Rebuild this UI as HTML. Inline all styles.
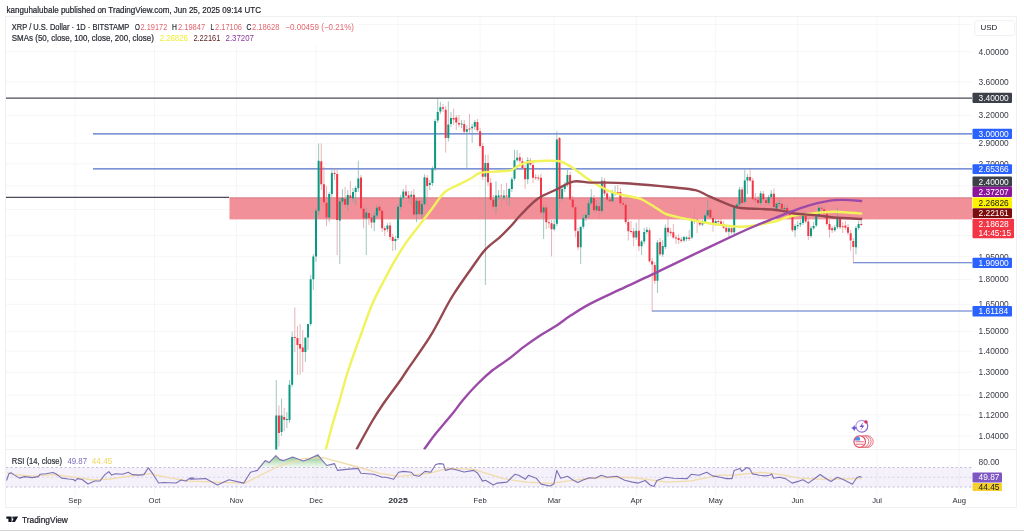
<!DOCTYPE html>
<html><head><meta charset="utf-8"><style>
html,body{margin:0;padding:0;width:1024px;height:531px;overflow:hidden;background:#fff;font-family:"Liberation Sans",sans-serif;}
</style></head><body>
<svg width="1024" height="531" viewBox="0 0 1024 531" style="position:absolute;left:0;top:0;will-change:transform"><defs><clipPath id="main"><rect x="6" y="19" width="966" height="430.5"/></clipPath><clipPath id="rsi"><rect x="6" y="450.5" width="966" height="45"/></clipPath><linearGradient id="ob" x1="0" y1="0" x2="0" y2="1"><stop offset="0" stop-color="#5fae5f" stop-opacity="0.8"/><stop offset="1" stop-color="#7cc47c" stop-opacity="0.08"/></linearGradient></defs><text x="6.6" y="12.9" font-family="Liberation Sans, sans-serif" font-size="9" fill="#1e2029" stroke="#1e2029" stroke-width="0.22" textLength="254.4" lengthAdjust="spacingAndGlyphs">kanguhalubale published on TradingView.com, Jun 25, 2025 09:14 UTC</text><rect x="5.5" y="16.5" width="1011" height="491" fill="#fff" stroke="#f0f0f0" stroke-width="1"/><path d="M75.1,17V495 M154.5,17V495 M236.6,17V495 M316.0,17V495 M398.0,17V495 M480.1,17V495 M554.2,17V495 M636.3,17V495 M715.7,17V495 M797.7,17V495 M877.1,17V495 M959.2,17V495 M6,24.5H972 M6,51.7H972 M6,81.8H972 M6,115.4H972 M6,143.4H972 M6,163.8H972 M6,185.8H972 M6,209.6H972 M6,235.5H972 M6,256.7H972 M6,279.5H972 M6,304.3H972 M6,331.5H972 M6,351.2H972 M6,372.3H972 M6,395.2H972 M6,414.9H972 M6,436.0H972" stroke="#f6f6f8" stroke-width="1" fill="none"/><path d="M6,449.5H1016" stroke="#f0f0f0" stroke-width="1"/><g clip-path="url(#main)"><path d="M6,98.1H972" stroke="#4a4d57" stroke-width="1.1"/><path d="M93,133.8H972 M93,168.8H972" stroke="#5270c8" stroke-width="1.15"/><path d="M6,197.4H229" stroke="#4a4d57" stroke-width="1.1"/><rect x="229.5" y="197.4" width="742.5" height="22.0" fill="#f2909a"/><path d="M229.5,197.9H972" stroke="#b06068" stroke-opacity="0.45" stroke-width="1"/><path d="M853,262.7H972 M652,311.0H972" stroke="#5270c8" stroke-width="1.15"/><path d="M276.27,380.0V470.0 M281.57,398.6V436.0 M286.86,412.0V428.0 M289.51,380.0V423.0 M292.15,331.5V387.0 M305.39,345.0V362.0 M308.04,332.0V350.0 M310.68,275.0V326.0 M313.33,254.0V290.0 M315.98,208.0V262.0 M318.62,143.5V215.0 M329.21,192.0V222.0 M331.86,170.0V197.0 M339.80,198.0V264.0 M342.45,189.0V205.0 M347.74,190.0V211.0 M353.03,188.0V202.0 M355.68,186.0V205.0 M358.33,160.8V192.0 M366.27,208.0V255.0 M374.21,212.0V231.2 M376.86,205.0V218.0 M387.45,223.0V232.0 M395.39,236.0V250.0 M398.03,204.0V240.0 M400.68,195.0V209.0 M403.33,189.0V200.0 M411.27,191.0V205.0 M416.56,198.0V222.2 M421.86,200.0V218.0 M424.50,174.3V206.0 M429.80,180.0V190.0 M432.44,166.4V186.0 M435.09,119.0V171.0 M437.74,99.0V123.0 M440.39,101.9V114.0 M448.33,101.4V141.5 M450.97,112.0V127.0 M461.56,120.0V128.0 M466.86,125.0V168.0 M472.15,124.0V143.0 M474.80,120.0V130.0 M485.38,154.8V285.0 M495.97,181.2V213.5 M498.62,190.0V200.0 M503.91,190.0V200.0 M509.21,188.0V206.0 M511.85,177.0V192.0 M514.50,150.0V181.0 M517.15,150.0V162.0 M527.74,157.0V184.0 M543.62,205.0V239.0 M554.21,220.0V231.0 M556.85,131.2V226.0 M562.15,185.0V201.0 M564.79,182.0V192.0 M567.44,170.0V187.0 M580.68,235.0V264.0 M583.32,215.0V229.0 M585.97,213.0V221.0 M588.62,200.0V218.0 M591.26,189.1V205.0 M596.56,200.0V212.0 M601.85,176.9V213.0 M612.44,190.0V203.0 M615.09,185.7V196.0 M636.26,223.0V240.0 M641.56,240.0V255.0 M644.20,228.0V244.0 M646.85,227.0V234.0 M657.44,240.0V293.0 M662.73,240.0V257.0 M665.38,224.4V249.0 M683.91,236.0V242.0 M686.56,236.0V241.0 M691.85,219.0V239.0 M702.44,220.0V226.0 M705.09,214.0V224.0 M707.73,199.9V217.0 M715.67,219.0V226.0 M728.91,227.0V239.0 M734.20,205.0V234.0 M736.85,203.0V209.0 M739.50,187.0V206.0 M744.79,169.8V204.0 M747.44,174.0V194.0 M760.67,191.0V205.0 M768.61,195.0V205.0 M771.26,190.0V199.0 M776.55,202.0V211.0 M779.20,200.0V207.0 M784.50,205.0V211.0 M795.08,224.0V237.1 M797.73,221.0V229.0 M800.38,220.0V227.0 M803.02,212.0V225.0 M810.97,226.0V238.0 M813.61,222.0V230.0 M816.26,212.0V227.0 M818.91,205.0V217.0 M834.79,225.0V232.0 M837.44,207.7V229.0 M855.96,226.0V254.3 M858.61,221.3V230.0" stroke="#6aa79a" stroke-width="0.85" stroke-opacity="0.75" fill="none"/><path d="M278.92,405.5V446.5 M284.21,407.8V431.0 M294.80,307.5V352.0 M297.45,326.0V375.0 M300.09,324.0V374.7 M302.74,330.0V372.0 M321.27,143.5V190.0 M323.92,166.6V206.0 M326.56,186.0V226.3 M334.51,168.0V180.0 M337.15,170.0V255.0 M345.09,187.0V208.0 M350.39,181.0V200.0 M360.98,175.0V210.0 M363.62,205.0V228.3 M368.92,210.0V225.0 M371.56,214.0V228.3 M379.50,204.0V214.0 M382.15,208.0V232.0 M384.80,226.0V236.0 M390.09,222.0V240.0 M392.74,234.0V251.0 M405.98,185.0V198.0 M408.62,191.0V203.0 M413.92,189.0V217.0 M419.21,197.0V216.0 M427.15,175.0V205.6 M443.03,104.0V112.0 M445.68,106.0V152.7 M453.62,108.7V125.0 M456.27,115.0V130.0 M458.91,115.0V127.3 M464.21,120.0V134.0 M469.50,114.0V133.0 M477.44,119.0V132.0 M480.09,128.0V148.0 M482.74,143.0V180.0 M488.03,154.8V186.0 M490.68,178.0V202.0 M493.33,195.0V210.0 M501.27,184.0V207.0 M506.56,183.0V205.0 M519.80,153.0V163.0 M522.44,157.7V170.0 M525.09,165.0V189.0 M530.38,158.0V166.0 M533.03,162.0V183.2 M535.68,174.0V180.0 M538.32,175.0V181.0 M540.97,173.9V215.0 M546.27,204.0V229.0 M548.91,218.0V228.0 M551.56,220.0V256.4 M559.50,137.0V209.6 M570.09,172.0V201.0 M572.74,196.0V209.0 M575.38,204.0V237.5 M578.03,228.0V250.3 M593.91,195.0V213.0 M599.21,203.0V219.0 M604.50,178.0V196.0 M607.15,190.0V201.0 M609.79,196.0V203.0 M617.74,185.0V195.0 M620.38,188.0V206.0 M623.03,200.0V207.0 M625.68,202.0V224.0 M628.32,219.0V240.5 M630.97,221.0V234.0 M633.62,228.0V246.3 M638.91,219.0V251.0 M649.50,228.0V263.0 M652.15,258.0V311.5 M654.79,262.0V284.0 M660.09,238.0V256.0 M668.03,217.5V237.0 M670.67,228.0V236.0 M673.32,224.0V239.0 M675.97,235.0V244.0 M678.62,234.0V244.0 M681.26,237.0V243.0 M689.20,230.0V241.0 M694.50,208.7V224.0 M697.14,217.0V233.2 M699.79,220.0V226.0 M710.38,207.0V219.0 M713.03,216.0V231.7 M718.32,218.0V224.0 M720.97,219.0V225.0 M723.62,221.0V229.0 M726.26,225.0V233.0 M731.56,226.0V234.0 M742.14,187.0V205.0 M750.08,168.8V182.0 M752.73,178.0V201.0 M755.38,193.0V203.0 M758.03,196.0V205.0 M763.32,191.0V201.0 M765.97,197.0V205.0 M773.91,188.4V209.0 M781.85,198.0V211.0 M787.14,204.0V214.0 M789.79,210.0V219.0 M792.44,214.0V232.0 M805.67,212.0V223.0 M808.32,218.0V240.0 M821.55,205.0V211.0 M824.20,206.0V215.0 M826.85,211.0V226.0 M829.50,220.0V237.7 M832.14,226.0V233.0 M840.08,215.0V229.0 M842.73,222.0V233.0 M845.38,221.0V230.0 M848.02,224.0V235.0 M850.67,230.0V250.8 M853.32,238.0V262.5 M861.26,221.0V226.0" stroke="#d98890" stroke-width="0.85" stroke-opacity="0.75" fill="none"/><path d="M275.27,415.6h2V470.0h-2z M280.57,415.6h2V432.0h-2z M285.86,419.0h2V420.0h-2z M288.51,384.7h2V420.0h-2z M291.15,337.1h2V384.7h-2z M304.39,337.5h2V352.0h-2z M307.04,324.0h2V337.5h-2z M309.68,279.2h2V324.0h-2z M312.33,256.4h2V279.2h-2z M314.98,210.7h2V256.4h-2z M317.62,160.8h2V210.7h-2z M328.21,194.0h2V217.5h-2z M330.86,173.0h2V194.0h-2z M338.80,201.4h2V220.5h-2z M341.45,198.0h2V201.4h-2z M346.74,195.0h2V204.8h-2z M352.03,192.0h2V198.4h-2z M354.68,188.0h2V192.0h-2z M357.33,178.4h2V188.2h-2z M365.27,212.6h2V218.5h-2z M373.21,215.6h2V222.4h-2z M375.86,207.7h2V215.6h-2z M386.45,225.4h2V229.3h-2z M394.39,239.0h2V241.0h-2z M397.03,206.8h2V238.0h-2z M399.68,197.7h2V207.0h-2z M402.33,191.4h2V197.7h-2z M410.27,194.8h2V196.7h-2z M415.56,200.7h2V214.4h-2z M420.86,204.0h2V214.4h-2z M423.50,177.2h2V204.0h-2z M428.80,183.0h2V185.0h-2z M431.44,168.4h2V183.1h-2z M434.09,121.0h2V168.4h-2z M436.74,112.0h2V120.5h-2z M439.39,107.2h2V111.6h-2z M447.33,124.4h2V138.1h-2z M449.97,118.0h2V123.9h-2z M460.56,123.4h2V124.4h-2z M465.86,129.3h2V131.7h-2z M471.15,126.8h2V128.3h-2z M473.80,121.9h2V126.8h-2z M484.38,163.1h2V176.7h-2z M494.97,195.4h2V206.7h-2z M497.62,195.4h2V197.3h-2z M502.91,195.4h2V197.8h-2z M508.21,189.0h2V197.8h-2z M510.85,179.3h2V189.0h-2z M513.50,160.2h2V178.8h-2z M516.15,157.7h2V160.2h-2z M526.74,160.2h2V179.3h-2z M542.62,207.6h2V212.5h-2z M553.21,224.3h2V229.2h-2z M555.85,139.5h2V223.8h-2z M561.15,189.0h2V198.8h-2z M563.79,184.2h2V189.0h-2z M566.44,174.9h2V184.2h-2z M579.68,226.8h2V247.3h-2z M582.32,218.0h2V226.8h-2z M584.97,215.0h2V218.0h-2z M587.62,203.3h2V215.0h-2z M590.26,197.4h2V203.3h-2z M595.56,205.7h2V210.2h-2z M600.85,180.8h2V211.1h-2z M611.44,193.0h2V201.3h-2z M614.09,192.0h2V193.0h-2z M635.26,230.7h2V237.5h-2z M640.56,241.4h2V246.3h-2z M643.20,232.0h2V241.4h-2z M645.85,229.7h2V232.0h-2z M656.44,242.4h2V280.7h-2z M661.73,246.0h2V254.5h-2z M664.38,227.8h2V247.0h-2z M682.91,237.0h2V240.5h-2z M685.56,237.6h2V239.1h-2z M690.85,220.5h2V237.6h-2z M701.44,222.4h2V224.4h-2z M704.09,215.6h2V222.4h-2z M706.73,210.2h2V215.6h-2z M714.67,221.0h2V223.9h-2z M727.91,228.3h2V231.7h-2z M733.20,207.0h2V232.2h-2z M735.85,204.6h2V207.0h-2z M738.50,189.4h2V204.6h-2z M743.79,180.6h2V202.1h-2z M746.44,177.1h2V180.6h-2z M759.67,193.3h2V203.1h-2z M767.61,197.2h2V203.1h-2z M770.26,193.8h2V197.2h-2z M775.55,203.8h2V208.7h-2z M778.20,203.0h2V204.0h-2z M783.50,208.0h2V209.0h-2z M794.08,225.9h2V230.3h-2z M796.73,224.9h2V226.3h-2z M799.38,222.9h2V224.4h-2z M802.02,214.6h2V222.9h-2z M809.97,228.3h2V236.1h-2z M812.61,225.9h2V228.3h-2z M815.26,215.0h2V225.4h-2z M817.91,207.7h2V215.0h-2z M833.79,227.3h2V230.3h-2z M836.44,218.5h2V227.3h-2z M854.96,227.9h2V247.3h-2z M857.61,224.0h2V227.9h-2z" fill="#089981"/><path d="M277.92,415.6h2V433.0h-2z M283.21,417.0h2V419.7h-2z M293.80,337.0h2V338.0h-2z M296.45,338.0h2V345.0h-2z M299.09,344.0h2V348.5h-2z M301.74,347.6h2V352.0h-2z M320.27,161.3h2V184.3h-2z M322.92,184.3h2V202.3h-2z M325.56,202.8h2V217.5h-2z M333.51,173.0h2V174.0h-2z M336.15,174.0h2V220.0h-2z M344.09,199.0h2V204.8h-2z M349.39,195.5h2V198.0h-2z M359.98,177.4h2V208.2h-2z M362.62,208.7h2V218.5h-2z M367.92,213.0h2V218.0h-2z M370.56,217.5h2V222.4h-2z M378.50,206.8h2V210.7h-2z M381.15,210.7h2V228.3h-2z M383.80,228.3h2V230.3h-2z M389.09,225.4h2V237.1h-2z M391.74,237.1h2V241.0h-2z M404.98,191.4h2V195.8h-2z M407.62,195.3h2V198.2h-2z M412.92,194.8h2V214.4h-2z M418.21,200.7h2V213.9h-2z M426.15,177.7h2V186.0h-2z M442.03,107.2h2V108.7h-2z M444.68,109.7h2V138.1h-2z M452.62,118.0h2V119.5h-2z M455.27,117.5h2V122.4h-2z M457.91,123.0h2V124.4h-2z M463.21,123.9h2V131.7h-2z M468.50,128.5h2V129.5h-2z M476.44,121.9h2V130.3h-2z M479.09,131.2h2V145.9h-2z M481.74,145.9h2V176.7h-2z M487.03,163.1h2V182.2h-2z M489.68,182.7h2V199.8h-2z M492.33,199.8h2V206.7h-2z M500.27,195.5h2V196.5h-2z M505.56,195.5h2V196.5h-2z M518.80,157.2h2V160.7h-2z M521.44,161.2h2V168.0h-2z M524.09,168.0h2V179.3h-2z M529.38,160.2h2V164.6h-2z M532.03,165.0h2V177.8h-2z M534.68,177.3h2V178.3h-2z M537.32,177.6h2V178.6h-2z M539.97,177.8h2V212.5h-2z M545.27,207.6h2V222.3h-2z M547.91,222.3h2V223.3h-2z M550.56,223.3h2V229.2h-2z M558.50,138.0h2V198.8h-2z M569.09,174.9h2V199.4h-2z M571.74,199.4h2V207.2h-2z M574.38,207.2h2V230.7h-2z M577.03,231.2h2V247.3h-2z M592.91,197.9h2V210.2h-2z M598.21,206.2h2V211.1h-2z M603.50,180.8h2V193.5h-2z M606.15,193.5h2V199.4h-2z M608.79,199.4h2V201.3h-2z M616.74,192.0h2V193.0h-2z M619.38,192.0h2V203.3h-2z M622.03,203.3h2V204.5h-2z M624.68,204.8h2V221.9h-2z M627.32,221.9h2V231.2h-2z M629.97,231.0h2V232.0h-2z M632.62,231.2h2V237.5h-2z M637.91,230.7h2V246.3h-2z M648.50,230.2h2V261.2h-2z M651.15,261.2h2V264.6h-2z M653.79,265.0h2V280.7h-2z M659.09,242.0h2V254.2h-2z M667.03,227.8h2V232.2h-2z M669.67,231.7h2V233.2h-2z M672.32,232.2h2V237.6h-2z M674.97,237.6h2V238.6h-2z M677.62,238.0h2V240.0h-2z M680.26,239.6h2V241.0h-2z M688.20,237.6h2V239.1h-2z M693.50,220.5h2V221.5h-2z M696.14,219.5h2V222.0h-2z M698.79,222.0h2V224.4h-2z M709.38,209.7h2V217.5h-2z M712.03,218.0h2V223.9h-2z M717.32,221.0h2V222.0h-2z M719.97,221.4h2V223.9h-2z M722.62,223.9h2V227.8h-2z M725.26,227.8h2V231.7h-2z M730.56,228.3h2V232.2h-2z M741.14,189.4h2V203.1h-2z M749.08,177.1h2V180.6h-2z M751.73,180.6h2V199.2h-2z M754.38,199.2h2V200.2h-2z M757.03,199.7h2V203.1h-2z M762.32,193.8h2V199.2h-2z M764.97,200.2h2V203.1h-2z M772.91,193.8h2V207.0h-2z M780.85,203.8h2V208.7h-2z M786.14,207.7h2V213.1h-2z M788.79,212.1h2V216.5h-2z M791.44,217.0h2V230.3h-2z M804.67,216.0h2V221.4h-2z M807.32,221.4h2V236.1h-2z M820.55,207.7h2V208.7h-2z M823.20,209.2h2V213.6h-2z M825.85,213.6h2V223.9h-2z M828.50,223.9h2V229.8h-2z M831.14,228.3h2V230.3h-2z M839.08,218.0h2V227.3h-2z M841.73,226.3h2V227.3h-2z M844.38,225.4h2V227.8h-2z M847.02,227.3h2V232.7h-2z M849.67,233.2h2V240.4h-2z M852.32,240.9h2V247.0h-2z M860.26,224.0h2V225.0h-2z" fill="#f23645"/><path d="M325.80,449.50 C326.93,445.25 330.27,432.25 332.60,424.00 C334.93,415.75 337.28,408.67 339.80,400.00 C342.32,391.33 343.97,383.50 347.70,372.00 C351.43,360.50 358.07,342.42 362.20,331.00 C366.33,319.58 368.82,312.00 372.50,303.50 C376.18,295.00 380.43,287.38 384.30,280.00 C388.17,272.62 392.07,265.43 395.70,259.20 C399.33,252.97 402.12,248.30 406.10,242.60 C410.08,236.90 415.35,230.57 419.60,225.00 C423.85,219.43 428.03,213.98 431.60,209.20 C435.17,204.42 438.45,199.42 441.00,196.30 C443.55,193.18 443.97,192.45 446.90,190.50 C449.83,188.55 454.70,186.55 458.60,184.60 C462.50,182.65 466.78,180.73 470.30,178.80 C473.82,176.87 475.62,174.20 479.70,173.00 C483.78,171.80 489.62,172.05 494.80,171.60 C499.98,171.15 507.10,171.13 510.80,170.30 C514.50,169.47 514.50,167.88 517.00,166.60 C519.50,165.32 522.87,163.50 525.80,162.60 C528.73,161.70 530.12,161.50 534.60,161.20 C539.08,160.90 548.13,160.67 552.70,160.80 C557.27,160.93 558.50,160.72 562.00,162.00 C565.50,163.28 569.78,165.95 573.70,168.50 C577.62,171.05 581.58,174.58 585.50,177.30 C589.42,180.02 593.62,182.68 597.20,184.80 C600.78,186.92 604.30,188.70 607.00,190.00 C609.70,191.30 610.37,191.68 613.40,192.60 C616.43,193.52 621.28,194.62 625.20,195.50 C629.12,196.38 634.10,197.23 636.90,197.90 C639.70,198.57 639.23,198.10 642.00,199.50 C644.77,200.90 650.50,204.47 653.50,206.30 C656.50,208.13 657.92,209.22 660.00,210.50 C662.08,211.78 662.67,212.80 666.00,214.00 C669.33,215.20 676.07,216.78 680.00,217.70 C683.93,218.62 684.60,218.53 689.60,219.50 C694.60,220.47 704.10,222.50 710.00,223.50 C715.90,224.50 720.00,224.97 725.00,225.50 C730.00,226.03 735.00,226.70 740.00,226.70 C745.00,226.70 750.00,226.20 755.00,225.50 C760.00,224.80 765.83,223.42 770.00,222.50 C774.17,221.58 776.72,221.00 780.00,220.00 C783.28,219.00 784.00,217.65 789.70,216.50 C795.40,215.35 806.85,213.90 814.20,213.10 C821.55,212.30 828.17,211.80 833.80,211.70 C839.43,211.60 843.27,212.18 848.00,212.50 C852.73,212.82 859.83,213.42 862.20,213.60" stroke="#f0f35a" stroke-width="2.4" fill="none" stroke-linejoin="round"/><path d="M356.40,449.50 C359.00,444.83 367.65,428.92 372.00,421.50 C376.35,414.08 377.73,411.92 382.50,405.00 C387.27,398.08 396.48,385.83 400.60,380.00 C404.72,374.17 402.30,377.22 407.20,370.00 C412.10,362.78 423.13,347.87 430.00,336.70 C436.87,325.53 444.00,310.78 448.40,303.00 C452.80,295.22 452.60,295.72 456.40,290.00 C460.20,284.28 466.38,275.43 471.20,268.70 C476.02,261.97 480.60,254.78 485.30,249.60 C490.00,244.42 495.17,241.48 499.40,237.60 C503.63,233.72 507.17,230.07 510.70,226.30 C514.23,222.53 516.10,219.58 520.60,215.00 C525.10,210.42 531.90,202.97 537.70,198.80 C543.50,194.63 549.52,192.87 555.40,190.00 C561.28,187.13 567.23,182.83 573.00,181.60 C578.77,180.37 584.23,182.43 590.00,182.60 C595.77,182.77 601.73,182.50 607.60,182.60 C613.47,182.70 618.37,182.80 625.20,183.20 C632.03,183.60 640.80,184.32 648.60,185.00 C656.40,185.68 664.18,186.43 672.00,187.30 C679.82,188.17 689.17,188.63 695.50,190.20 C701.83,191.77 703.68,194.02 710.00,196.70 C716.32,199.38 727.62,204.38 733.40,206.30 C739.18,208.22 737.93,207.63 744.70,208.20 C751.47,208.77 766.65,209.07 774.00,209.70 C781.35,210.33 785.37,211.37 788.80,212.00 C792.23,212.63 789.55,212.90 794.60,213.50 C799.65,214.10 812.57,214.93 819.10,215.60 C825.63,216.27 826.62,216.93 833.80,217.50 C840.98,218.07 857.47,218.75 862.20,219.00" stroke="#964850" stroke-width="2.4" fill="none" stroke-linejoin="round"/><path d="M424.10,449.50 C425.78,447.17 430.92,439.75 434.20,435.50 C437.48,431.25 440.60,427.83 443.80,424.00 C447.00,420.17 450.20,416.50 453.40,412.50 C456.60,408.50 458.98,404.75 463.00,400.00 C467.02,395.25 472.58,388.95 477.50,384.00 C482.42,379.05 487.40,374.40 492.50,370.30 C497.60,366.20 502.88,363.30 508.10,359.40 C513.32,355.50 518.58,350.82 523.80,346.90 C529.02,342.98 534.20,339.28 539.40,335.90 C544.60,332.52 549.80,329.98 555.00,326.60 C560.20,323.22 564.77,319.38 570.60,315.60 C576.43,311.82 581.83,308.22 590.00,303.90 C598.17,299.58 609.28,294.57 619.60,289.70 C629.92,284.83 640.37,280.18 651.90,274.70 C663.43,269.22 675.15,263.33 688.80,256.80 C702.45,250.27 722.77,240.63 733.80,235.50 C744.83,230.37 748.13,228.92 755.00,226.00 C761.87,223.08 769.22,220.30 775.00,218.00 C780.78,215.70 784.13,214.27 789.70,212.20 C795.27,210.13 801.68,207.53 808.40,205.60 C815.12,203.67 824.13,201.55 830.00,200.60 C835.87,199.65 838.23,199.83 843.60,199.90 C848.97,199.97 859.10,200.82 862.20,201.00" stroke="#9b4aa8" stroke-width="2.4" fill="none" stroke-linejoin="round"/></g><rect x="6" y="17" width="352" height="28" fill="#fff"/><text x="11.8" y="29.6" font-family="Liberation Sans, sans-serif" font-size="8.6" fill="#2a2d36" stroke="#2a2d36" stroke-width="0.22" textLength="117.5" lengthAdjust="spacingAndGlyphs">XRP / U.S. Dollar · 1D · BITSTAMP</text><text x="134.9" y="29.6" font-family="Liberation Sans, sans-serif" font-size="8.6" fill="#2a2d36" text-anchor="start" font-weight="normal" textLength="4.9" lengthAdjust="spacingAndGlyphs" stroke="#2a2d36" stroke-width="0.22">O</text><text x="140.5" y="29.6" font-family="Liberation Sans, sans-serif" font-size="8.6" fill="#e26872" text-anchor="start" font-weight="normal" textLength="26.8" lengthAdjust="spacingAndGlyphs">2.19172</text><text x="172" y="29.6" font-family="Liberation Sans, sans-serif" font-size="8.6" fill="#2a2d36" text-anchor="start" font-weight="normal" textLength="4.9" lengthAdjust="spacingAndGlyphs" stroke="#2a2d36" stroke-width="0.22">H</text><text x="177.9" y="29.6" font-family="Liberation Sans, sans-serif" font-size="8.6" fill="#e26872" text-anchor="start" font-weight="normal" textLength="27.3" lengthAdjust="spacingAndGlyphs">2.19847</text><text x="210.6" y="29.6" font-family="Liberation Sans, sans-serif" font-size="8.6" fill="#2a2d36" text-anchor="start" font-weight="normal" textLength="3.6" lengthAdjust="spacingAndGlyphs" stroke="#2a2d36" stroke-width="0.22">L</text><text x="215" y="29.6" font-family="Liberation Sans, sans-serif" font-size="8.6" fill="#e26872" text-anchor="start" font-weight="normal" textLength="27" lengthAdjust="spacingAndGlyphs">2.17106</text><text x="246.6" y="29.6" font-family="Liberation Sans, sans-serif" font-size="8.6" fill="#2a2d36" text-anchor="start" font-weight="normal" textLength="4.9" lengthAdjust="spacingAndGlyphs" stroke="#2a2d36" stroke-width="0.22">C</text><text x="252" y="29.6" font-family="Liberation Sans, sans-serif" font-size="8.6" fill="#e26872" text-anchor="start" font-weight="normal" textLength="27.5" lengthAdjust="spacingAndGlyphs">2.18628</text><text x="285.3" y="29.6" font-family="Liberation Sans, sans-serif" font-size="8.6" fill="#e26872" text-anchor="start" font-weight="normal" textLength="68.7" lengthAdjust="spacingAndGlyphs">−0.00459 (−0.21%)</text><text x="11.8" y="40.7" font-family="Liberation Sans, sans-serif" font-size="8.6" fill="#2a2d36" text-anchor="start" font-weight="normal" textLength="142" lengthAdjust="spacingAndGlyphs" stroke="#2a2d36" stroke-width="0.22">SMAs (50, close, 100, close, 200, close)</text><text x="159.8" y="40.7" font-family="Liberation Sans, sans-serif" font-size="8.6" fill="#eeee30" text-anchor="start" font-weight="normal" textLength="28" lengthAdjust="spacingAndGlyphs">2.26826</text><text x="193.4" y="40.7" font-family="Liberation Sans, sans-serif" font-size="8.6" fill="#5a1e1e" text-anchor="start" font-weight="normal" textLength="27" lengthAdjust="spacingAndGlyphs">2.22161</text><text x="225.5" y="40.7" font-family="Liberation Sans, sans-serif" font-size="8.6" fill="#8a3b9e" text-anchor="start" font-weight="normal" textLength="28.5" lengthAdjust="spacingAndGlyphs">2.37207</text><g clip-path="url(#rsi)"><rect x="6" y="467.5" width="966" height="19.5" fill="#7e57c2" fill-opacity="0.085"/><path d="M6,467.5H972 M6,487H972" stroke="#b7b0d0" stroke-width="0.8" stroke-dasharray="2.2,2.3" fill="none"/><path d="M6,477.25H972" stroke="#cfc9e2" stroke-width="0.7" stroke-dasharray="2.2,2.3" fill="none"/><path d="M250.00,467.50 L243.70,467.50 L250.50,467.50 L257.40,467.50 L265.20,460.60 L269.10,462.60 L275.90,455.70 L279.80,459.60 L283.70,460.60 L292.50,457.10 L303.30,461.00 L309.10,459.10 L317.90,454.80 L320.90,458.70 L326.70,465.50 L334.50,463.60 L337.50,467.50 L338.00,467.50Z" fill="url(#ob)"/><path d="M7.00,472.70 L14.80,474.60 L34.30,476.10 L53.80,474.60 L73.40,477.10 L92.90,480.00 L109.80,479.00 L129.30,476.10 L148.80,473.70 L168.40,477.60 L187.90,481.00 L190.00,481.10 L244.70,483.10 L277.90,466.50 L303.30,458.70 L322.80,457.70 L356.00,466.50 L380.00,473.30 L399.50,476.30 L428.80,473.30 L448.40,468.40 L473.80,469.40 L503.40,478.60 L526.90,482.10 L550.30,483.30 L569.00,480.90 L597.20,477.50 L632.30,477.50 L667.50,482.10 L691.00,480.90 L720.00,475.10 L736.00,475.00 L760.00,472.30 L779.50,474.30 L799.10,478.20 L818.60,479.20 L838.10,479.20 L861.60,478.60" stroke="#f2dcaa" stroke-width="1.3" fill="none" stroke-linejoin="round"/><path d="M6.50,480.50 L8.90,473.70 L10.90,472.70 L13.80,474.60 L19.60,478.10 L24.50,476.60 L32.30,477.60 L38.20,476.60 L40.20,474.20 L46.00,473.70 L52.90,472.50 L55.80,473.70 L61.60,478.10 L68.50,479.00 L73.40,479.50 L75.30,481.00 L77.30,478.60 L82.10,479.50 L88.00,484.00 L94.80,481.00 L100.00,481.00 L104.90,474.60 L108.80,471.70 L111.70,475.10 L115.60,473.70 L122.50,474.20 L128.30,472.20 L132.20,474.60 L139.10,475.10 L143.90,474.60 L148.30,467.80 L152.70,473.70 L158.60,483.00 L163.50,482.50 L176.20,483.00 L181.10,480.00 L185.90,481.00 L189.80,478.10 L193.80,478.10 L190.00,479.20 L205.60,478.60 L217.30,485.00 L229.00,479.80 L243.70,483.10 L250.50,472.30 L257.40,470.40 L265.20,460.60 L269.10,462.60 L275.90,455.70 L279.80,459.60 L283.70,460.60 L292.50,457.10 L303.30,461.00 L309.10,459.10 L317.90,454.80 L320.90,458.70 L326.70,465.50 L334.50,463.60 L337.50,470.40 L346.20,469.40 L358.00,468.40 L360.90,473.30 L373.60,474.30 L382.40,477.20 L385.90,477.20 L393.70,479.20 L398.60,472.30 L403.40,471.40 L411.30,472.30 L414.20,475.30 L419.10,476.30 L424.90,471.40 L430.80,472.30 L435.70,464.50 L439.60,463.60 L443.50,464.10 L445.40,470.40 L451.30,468.80 L457.10,470.00 L464.00,472.00 L473.80,470.40 L477.70,473.30 L482.50,481.10 L485.50,480.20 L493.30,485.00 L497.20,483.10 L507.00,482.10 L514.80,474.30 L518.70,475.30 L525.50,479.20 L528.40,475.30 L536.20,478.20 L541.10,484.10 L549.90,486.00 L553.80,484.10 L556.80,470.40 L560.70,478.20 L567.50,476.30 L573.40,480.20 L577.80,482.50 L583.70,479.80 L589.50,477.80 L595.40,478.20 L601.30,475.30 L607.10,477.20 L616.90,476.30 L624.70,480.20 L632.50,482.10 L638.40,483.10 L645.20,480.50 L650.10,485.00 L654.00,486.40 L656.90,480.50 L665.70,477.20 L673.50,478.20 L687.20,478.60 L691.10,474.30 L698.90,475.30 L706.70,472.30 L712.60,475.90 L720.40,477.20 L726.30,478.60 L732.10,478.60 L734.10,470.40 L739.90,468.40 L741.90,471.40 L746.80,467.50 L749.70,468.80 L752.60,473.90 L759.50,475.30 L765.30,475.90 L769.80,475.30 L771.70,473.90 L773.70,478.20 L779.50,477.20 L785.40,478.60 L792.20,483.10 L799.10,481.10 L803.00,479.80 L808.30,483.10 L813.70,479.30 L820.20,474.50 L825.50,478.30 L830.90,481.50 L837.30,477.20 L842.70,479.30 L852.40,484.20 L856.70,477.80 L859.60,476.60 L861.60,477.20" stroke="#7d70b5" stroke-width="1.1" fill="none" stroke-linejoin="round"/></g><text x="11.7" y="463.5" font-family="Liberation Sans, sans-serif" font-size="8.2" fill="#2a2d36" text-anchor="start" font-weight="normal" textLength="50.3" lengthAdjust="spacingAndGlyphs" stroke="#2a2d36" stroke-width="0.18">RSI (14, close)</text><text x="67.4" y="463.5" font-family="Liberation Sans, sans-serif" font-size="8.2" fill="#7e6cc0" text-anchor="start" font-weight="normal" textLength="19.6" lengthAdjust="spacingAndGlyphs">49.87</text><text x="91.8" y="463.5" font-family="Liberation Sans, sans-serif" font-size="8.2" fill="#f0d860" text-anchor="start" font-weight="normal" textLength="20.5" lengthAdjust="spacingAndGlyphs">44.45</text><text x="75.1" y="503.3" font-family="Liberation Sans, sans-serif" font-size="7.6" fill="#2a2d36" text-anchor="middle" font-weight="normal">Sep</text><text x="154.5" y="503.3" font-family="Liberation Sans, sans-serif" font-size="7.6" fill="#2a2d36" text-anchor="middle" font-weight="normal">Oct</text><text x="236.6" y="503.3" font-family="Liberation Sans, sans-serif" font-size="7.6" fill="#2a2d36" text-anchor="middle" font-weight="normal">Nov</text><text x="316.0" y="503.3" font-family="Liberation Sans, sans-serif" font-size="7.6" fill="#2a2d36" text-anchor="middle" font-weight="normal">Dec</text><text x="398.0" y="503.3" font-family="Liberation Sans, sans-serif" font-size="8.0" fill="#2a2d36" text-anchor="middle" font-weight="bold" textLength="19.7" lengthAdjust="spacingAndGlyphs">2025</text><text x="480.1" y="503.3" font-family="Liberation Sans, sans-serif" font-size="7.6" fill="#2a2d36" text-anchor="middle" font-weight="normal">Feb</text><text x="554.2" y="503.3" font-family="Liberation Sans, sans-serif" font-size="7.6" fill="#2a2d36" text-anchor="middle" font-weight="normal">Mar</text><text x="636.3" y="503.3" font-family="Liberation Sans, sans-serif" font-size="7.6" fill="#2a2d36" text-anchor="middle" font-weight="normal">Apr</text><text x="715.7" y="503.3" font-family="Liberation Sans, sans-serif" font-size="7.6" fill="#2a2d36" text-anchor="middle" font-weight="normal">May</text><text x="797.7" y="503.3" font-family="Liberation Sans, sans-serif" font-size="7.6" fill="#2a2d36" text-anchor="middle" font-weight="normal">Jun</text><text x="877.1" y="503.3" font-family="Liberation Sans, sans-serif" font-size="7.6" fill="#2a2d36" text-anchor="middle" font-weight="normal">Jul</text><text x="959.2" y="503.3" font-family="Liberation Sans, sans-serif" font-size="7.6" fill="#2a2d36" text-anchor="middle" font-weight="normal">Aug</text><text x="978.5" y="54.6" font-family="Liberation Sans, sans-serif" font-size="8.4" fill="#3a3d46" text-anchor="start" font-weight="normal">4.00000</text><text x="978.5" y="84.7" font-family="Liberation Sans, sans-serif" font-size="8.4" fill="#3a3d46" text-anchor="start" font-weight="normal">3.60000</text><text x="978.5" y="118.3" font-family="Liberation Sans, sans-serif" font-size="8.4" fill="#3a3d46" text-anchor="start" font-weight="normal">3.20000</text><text x="978.5" y="146.3" font-family="Liberation Sans, sans-serif" font-size="8.4" fill="#3a3d46" text-anchor="start" font-weight="normal">2.90000</text><text x="978.5" y="166.7" font-family="Liberation Sans, sans-serif" font-size="8.4" fill="#3a3d46" text-anchor="start" font-weight="normal">2.70000</text><text x="978.5" y="259.6" font-family="Liberation Sans, sans-serif" font-size="8.4" fill="#3a3d46" text-anchor="start" font-weight="normal">1.95000</text><text x="978.5" y="282.4" font-family="Liberation Sans, sans-serif" font-size="8.4" fill="#3a3d46" text-anchor="start" font-weight="normal">1.80000</text><text x="978.5" y="307.2" font-family="Liberation Sans, sans-serif" font-size="8.4" fill="#3a3d46" text-anchor="start" font-weight="normal">1.65000</text><text x="978.5" y="334.4" font-family="Liberation Sans, sans-serif" font-size="8.4" fill="#3a3d46" text-anchor="start" font-weight="normal">1.50000</text><text x="978.5" y="354.1" font-family="Liberation Sans, sans-serif" font-size="8.4" fill="#3a3d46" text-anchor="start" font-weight="normal">1.40000</text><text x="978.5" y="375.2" font-family="Liberation Sans, sans-serif" font-size="8.4" fill="#3a3d46" text-anchor="start" font-weight="normal">1.30000</text><text x="978.5" y="398.1" font-family="Liberation Sans, sans-serif" font-size="8.4" fill="#3a3d46" text-anchor="start" font-weight="normal">1.20000</text><text x="978.5" y="417.8" font-family="Liberation Sans, sans-serif" font-size="8.4" fill="#3a3d46" text-anchor="start" font-weight="normal">1.12000</text><text x="978.5" y="438.9" font-family="Liberation Sans, sans-serif" font-size="8.4" fill="#3a3d46" text-anchor="start" font-weight="normal">1.04000</text><text x="978.5" y="465" font-family="Liberation Sans, sans-serif" font-size="8.4" fill="#3a3d46" text-anchor="start" font-weight="normal">80.00</text><text x="980.4" y="30" font-family="Liberation Sans, sans-serif" font-size="8" fill="#131722" text-anchor="start" font-weight="normal">USD</text><rect x="974.8" y="20.8" width="40" height="14.7" rx="2" fill="none" stroke="#f0f0f0"/><rect x="972.5" y="92.8" width="39.5" height="10.200000000000003" fill="#3d4049" rx="1"/><text x="978.5" y="100.8" font-family="Liberation Sans, sans-serif" font-size="8.4" fill="#fff" text-anchor="start" font-weight="normal">3.40000</text><rect x="972.5" y="128.8" width="39.5" height="10.199999999999989" fill="#2962ff" rx="1"/><text x="978.5" y="136.8" font-family="Liberation Sans, sans-serif" font-size="8.4" fill="#fff" text-anchor="start" font-weight="normal">3.00000</text><rect x="972.5" y="164.2" width="39.5" height="9.700000000000017" fill="#2962ff" rx="1"/><text x="978.5" y="172.0" font-family="Liberation Sans, sans-serif" font-size="8.4" fill="#fff" text-anchor="start" font-weight="normal">2.65366</text><rect x="972.5" y="176.6" width="39.5" height="10.200000000000017" fill="#3d4049" rx="1"/><text x="978.5" y="184.6" font-family="Liberation Sans, sans-serif" font-size="8.4" fill="#fff" text-anchor="start" font-weight="normal">2.40000</text><rect x="972.5" y="186.8" width="39.5" height="10.099999999999994" fill="#8b159b" rx="1"/><text x="978.5" y="194.8" font-family="Liberation Sans, sans-serif" font-size="8.4" fill="#fff" text-anchor="start" font-weight="normal">2.37207</text><rect x="972.5" y="197.6" width="39.5" height="10.300000000000011" fill="#fff200" rx="1"/><text x="978.5" y="205.7" font-family="Liberation Sans, sans-serif" font-size="8.4" fill="#131722" text-anchor="start" font-weight="normal">2.26826</text><rect x="972.5" y="208.2" width="39.5" height="9.800000000000011" fill="#7b0d0d" rx="1"/><text x="978.5" y="216.0" font-family="Liberation Sans, sans-serif" font-size="8.4" fill="#fff" text-anchor="start" font-weight="normal">2.22161</text><rect x="972.5" y="218.7" width="41.5" height="19.600000000000023" fill="#f23645" rx="1"/><text x="978.5" y="226.5" font-family="Liberation Sans, sans-serif" font-size="8.4" fill="#fff" text-anchor="start" font-weight="normal">2.18628</text><text x="978.5" y="236.3" font-family="Liberation Sans, sans-serif" font-size="8.4" fill="#fff" text-anchor="start" font-weight="normal">14:45:15</text><rect x="972.5" y="257.8" width="39.5" height="10.099999999999966" fill="#2962ff" rx="1"/><text x="978.5" y="265.8" font-family="Liberation Sans, sans-serif" font-size="8.4" fill="#fff" text-anchor="start" font-weight="normal">1.90900</text><rect x="972.5" y="306" width="39.5" height="10.5" fill="#2962ff" rx="1"/><text x="978.5" y="314.1" font-family="Liberation Sans, sans-serif" font-size="8.4" fill="#fff" text-anchor="start" font-weight="normal">1.61184</text><rect x="972.5" y="472.6" width="29.5" height="9.899999999999977" fill="#7e57c2" rx="1"/><text x="978.5" y="480.4" font-family="Liberation Sans, sans-serif" font-size="8.4" fill="#fff" text-anchor="start" font-weight="normal">49.87</text><rect x="972.5" y="483" width="29.5" height="8" fill="#f6d02c" rx="1"/><text x="978.5" y="489.9" font-family="Liberation Sans, sans-serif" font-size="8.4" fill="#131722" text-anchor="start" font-weight="normal">44.45</text><defs><linearGradient id="ic1" x1="0" y1="0" x2="1" y2="1"><stop offset="0" stop-color="#c9b6f0"/><stop offset="1" stop-color="#7a4fc8"/></linearGradient></defs><circle cx="861.8" cy="426.2" r="5.9" fill="#fff" stroke="url(#ic1)" stroke-width="1.2"/><path d="M863.6,421.8 L859.6,426.9 H862.2 L860.2,430.8 L864.4,425.4 H861.9Z" fill="#7046c8"/><circle cx="866" cy="421.9" r="1.7" fill="#d8304f"/><path d="M854.2,424.9 Q854.7,427.6 857.4,428.1 Q854.7,428.6 854.2,431.3 Q853.7,428.6 851,428.1 Q853.7,427.6 854.2,424.9Z" fill="#6a55e0"/><circle cx="867.4" cy="441.6" r="5.8" fill="#fff" stroke="#e06070" stroke-width="0.9"/><circle cx="865.3" cy="441.6" r="5.8" fill="#fff" stroke="#e06070" stroke-width="0.9"/><circle cx="863.0" cy="441.6" r="5.8" fill="#fff" stroke="#e06070" stroke-width="0.9"/><circle cx="859.7" cy="441.6" r="5.8" fill="#fff" stroke="#e0455a" stroke-width="1.1"/><path d="M855.5,441.8 h8.4 M855.6,444.2 h8.2" stroke="#e86a78" stroke-width="1.1"/><path d="M854.6,440.6 A5.1,5.1 0 0 1 859.5,436.6 L860.2,440.6Z" fill="#4a8ee8"/><path d="M6.3,516.6 h5.3 v5.5 h-3.2 v-3.3 h-2.1z" fill="#131722"/><circle cx="13.4" cy="517.7" r="1.15" fill="#131722"/><path d="M14.6,516.6 h3.6 l-3.3,5.5 h-2.9z" fill="#131722"/><text x="22" y="523" font-family="Liberation Sans, sans-serif" font-size="8.6" fill="#1a1c24" text-anchor="start" font-weight="normal" textLength="45.9" lengthAdjust="spacingAndGlyphs" stroke="#1a1c24" stroke-width="0.2">TradingView</text><path d="M0,530.5H1024" stroke="#d4d4d4" stroke-width="1"/></svg>
</body></html>
